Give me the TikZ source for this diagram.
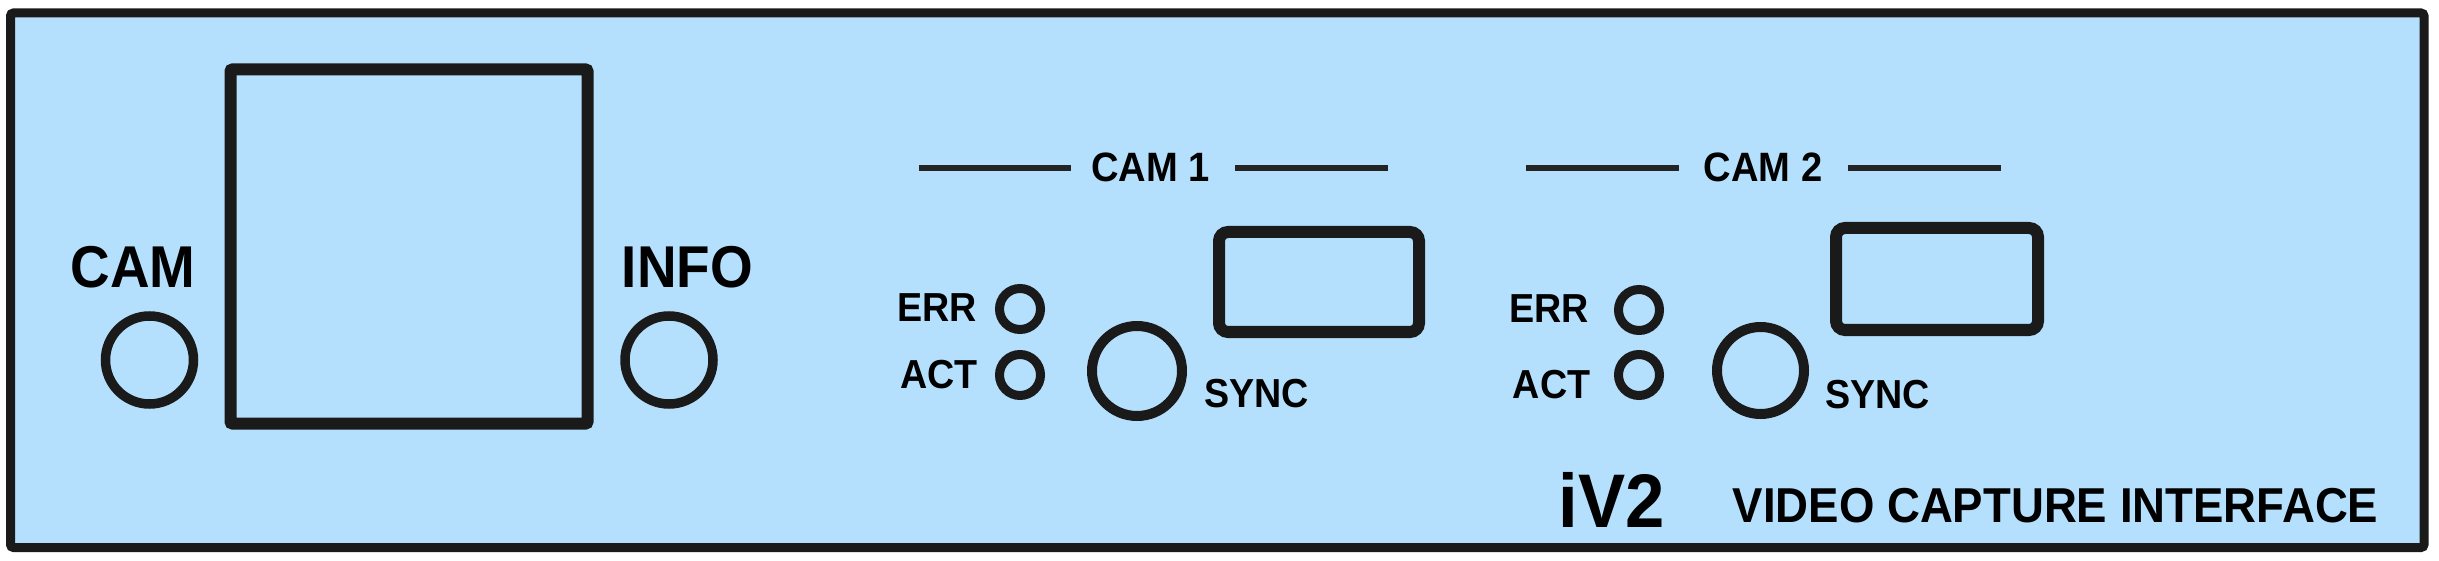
\documentclass[tikz,border=0pt]{standalone}
\usepackage{fontspec}
\setmainfont{Liberation Sans}[FakeStretch=0.93]
\definecolor{panel}{RGB}{181,224,253}
\definecolor{ink}{RGB}{26,26,26}
\definecolor{rule}{RGB}{36,36,36}
\tikzset{
  ring/.style={circle, draw=ink, inner sep=0pt, outer sep=0pt},
  lbl/.style={inner sep=0pt, outer sep=0pt, anchor=base, text=black, font=\bfseries},
  hdr/.style={draw=rule, line width=6pt},
  port/.style={draw=ink, line width=12pt, rounded corners=9pt},
}
\begin{document}
\begin{tikzpicture}[x=1pt,y=-1pt]
\useasboundingbox (0,0) rectangle (2439,561);
% panel
\draw[draw=ink, fill=panel, line width=9pt, rounded corners=3pt] (10.5,13) rectangle (2424,547.5);
% display window
\draw[draw=ink, line width=12pt, rounded corners=2pt] (230.5,69.5) rectangle (587.5,423.5);
% left knobs
\node[lbl, font=\fontsize{59}{61}\selectfont\bfseries] (camlbl) at (133,288) {CAM};
\node[ring, line width=9.5pt, minimum size=88pt] (camknob) at (149.5,360) {};
\node[lbl, font=\fontsize{59}{61}\selectfont\bfseries] (infolbl) at (687.5,288) {INFO};
\node[ring, line width=9.5pt, minimum size=88pt] (infoknob) at (669,360) {};
% CAM 1 group
\node[lbl, font=\fontsize{41}{43}\selectfont\bfseries] (cam1) at (1150.5,182) {CAM 1};
\coordinate (c1a) at (919,168); \coordinate (c1b) at (1071,168);
\coordinate (c1c) at (1235,168); \coordinate (c1d) at (1388,168);
\draw[hdr] (c1a) -- (c1b);
\draw[hdr] (c1c) -- (c1d);
\node[lbl, font=\fontsize{40.5}{42}\selectfont\bfseries] (err1) at (937,322) {ERR};
\node[lbl, font=\fontsize{40.5}{42}\selectfont\bfseries] (act1) at (939,388) {ACT};
\node[ring, line width=9pt, minimum size=41pt] (errled1) at (1020,309) {};
\node[ring, line width=9pt, minimum size=41pt] (actled1) at (1020,375) {};
\node[ring, line width=10pt, minimum size=90pt] (sync1) at (1137,371) {};
\node[lbl, font=\fontsize{40.5}{42}\selectfont\bfseries] (synclbl1) at (1256.5,407) {SYNC};
\draw[port] (1219,232) rectangle (1419,332);
% CAM 2 group
\node[lbl, font=\fontsize{41}{43}\selectfont\bfseries] (cam2) at (1763,182) {CAM 2};
\coordinate (c2a) at (1526,168); \coordinate (c2b) at (1679,168);
\coordinate (c2c) at (1848,168); \coordinate (c2d) at (2001,168);
\draw[hdr] (c2a) -- (c2b);
\draw[hdr] (c2c) -- (c2d);
\node[lbl, font=\fontsize{40.5}{42}\selectfont\bfseries] (err2) at (1549,323) {ERR};
\node[lbl, font=\fontsize{40.5}{42}\selectfont\bfseries] (act2) at (1551.5,398) {ACT};
\node[ring, line width=9pt, minimum size=41pt] (errled2) at (1639,310) {};
\node[ring, line width=9pt, minimum size=41pt] (actled2) at (1639,375) {};
\node[ring, line width=10pt, minimum size=87pt] (sync2) at (1760.5,370.5) {};
\node[lbl, font=\fontsize{40.5}{42}\selectfont\bfseries] (synclbl2) at (1877.5,408) {SYNC};
\draw[port] (1836,228) rectangle (2038,330);
% branding
\node[lbl, font=\fontsize{76}{78}\selectfont\bfseries] (brand) at (1612,527) {iV2};
\node[lbl, font=\fontsize{49}{51}\selectfont\bfseries] (title) at (2055.5,522) {VIDEO CAPTURE INTERFACE};
\end{tikzpicture}
\end{document}
